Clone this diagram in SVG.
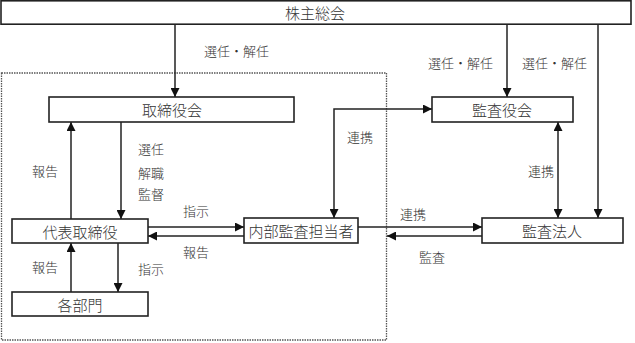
<svg xmlns="http://www.w3.org/2000/svg" width="635" height="343" viewBox="0 0 635 343">
<style>
.box{fill:#fff;stroke:#222;stroke-width:1.6}
.bt{font-family:"Noto Sans CJK JP","Noto Sans CJK SC",sans-serif;font-size:15px;font-weight:300;fill:#333;text-anchor:middle;dominant-baseline:central}
.lb{font-family:"Noto Sans CJK JP","Noto Sans CJK SC",sans-serif;font-size:13px;font-weight:300;fill:#333;dominant-baseline:central}
.ln{fill:none;stroke:#222;stroke-width:1.5}
.lnE{marker-end:url(#ah)}
.lnB{marker-start:url(#ah);marker-end:url(#ah)}
</style>
<defs>
<marker id="ah" viewBox="0 0 10 10" refX="10" refY="5" markerWidth="9" markerHeight="9" markerUnits="userSpaceOnUse" orient="auto-start-reverse">
<path d="M0,0 L10,5 L0,10 z" fill="#111"/>
</marker>
</defs>
<rect width="635" height="343" fill="#fff"/>
<rect id="group-boundary" x="1.5" y="73" width="385" height="267" fill="none" stroke="#555" stroke-width="1.3" stroke-dasharray="1.5 1"/>

<g id="connectors">
<line class="ln lnE" x1="175" y1="24" x2="175" y2="97"/>
<line class="ln lnE" x1="507" y1="24" x2="507" y2="97"/>
<line class="ln lnE" x1="598" y1="24" x2="598" y2="218"/>
<line class="ln lnB" x1="558" y1="122" x2="558" y2="218"/>
<path class="ln lnB" d="M432,109 H334 V218"/>
<line class="ln lnE" x1="121" y1="122" x2="121" y2="219"/>
<line class="ln lnE" x1="71" y1="219" x2="71" y2="122"/>
<line class="ln lnE" x1="71" y1="292" x2="71" y2="243"/>
<line class="ln lnE" x1="118" y1="243" x2="118" y2="292"/>
<line class="ln lnE" x1="148" y1="227" x2="244" y2="227"/>
<line class="ln lnE" x1="244" y1="236" x2="148" y2="236"/>
<line class="ln lnE" x1="358" y1="227" x2="482" y2="227"/>
<line class="ln lnE" x1="482" y1="236" x2="387" y2="236"/>
<text class="lb" x="204" y="50">選任・解任</text>
<text class="lb" x="428" y="62">選任・解任</text>
<text class="lb" x="522" y="62">選任・解任</text>
<text class="lb" x="528" y="170">連携</text>
<text class="lb" x="347" y="136">連携</text>
<text class="lb" x="138" y="148">選任</text>
<text class="lb" x="138" y="172">解職</text>
<text class="lb" x="138" y="193">監督</text>
<text class="lb" x="32" y="170">報告</text>
<text class="lb" x="32" y="266">報告</text>
<text class="lb" x="138" y="268">指示</text>
<text class="lb" x="183" y="210">指示</text>
<text class="lb" x="183" y="251">報告</text>
<text class="lb" x="400" y="213">連携</text>
<text class="lb" x="419" y="256">監査</text>
</g>

<g id="node-shareholders">
<rect class="box" x="1" y="0.8" width="630" height="23.4"/>
<text class="bt" x="315" y="12.5">株主総会</text>
</g>
<g id="node-board">
<rect class="box" x="49" y="97" width="245" height="25"/>
<text class="bt" x="172" y="109.5">取締役会</text>
</g>
<g id="node-auditors">
<rect class="box" x="432" y="97" width="141" height="25"/>
<text class="bt" x="502" y="109.5">監査役会</text>
</g>
<g id="node-ceo">
<rect class="box" x="12" y="219" width="136" height="24"/>
<text class="bt" x="80" y="231">代表取締役</text>
</g>
<g id="node-internal-audit">
<rect class="box" x="244" y="218" width="114" height="25"/>
<text class="bt" x="301" y="230.5">内部監査担当者</text>
</g>
<g id="node-audit-firm">
<rect class="box" x="482" y="218" width="141" height="25"/>
<text class="bt" x="552" y="230.5">監査法人</text>
</g>
<g id="node-departments">
<rect class="box" x="12" y="292" width="136" height="24"/>
<text class="bt" x="80" y="304">各部門</text>
</g>
</svg>
